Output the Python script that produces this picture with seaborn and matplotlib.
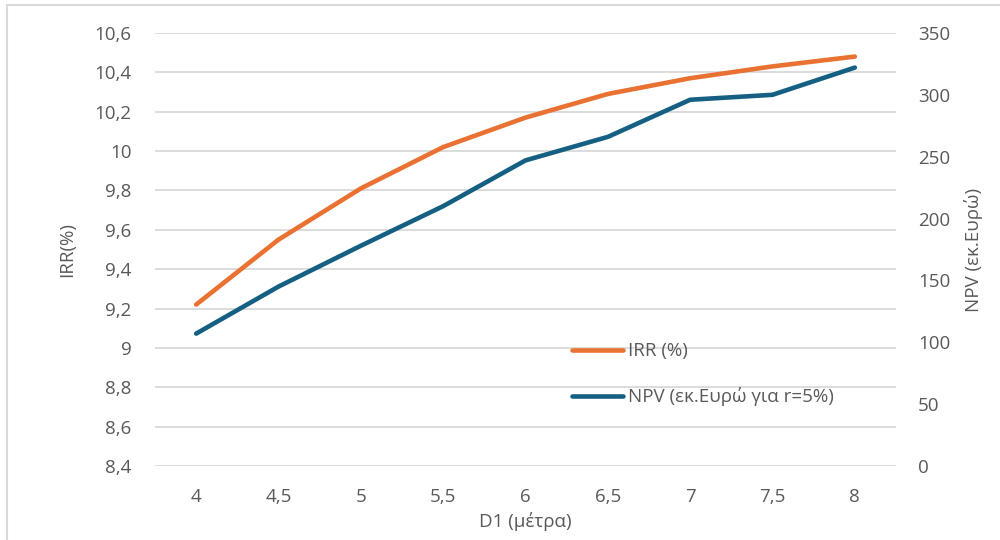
import matplotlib
matplotlib.use("Agg")
import matplotlib.pyplot as plt
import seaborn as sns
import pandas as pd
from matplotlib.lines import Line2D
from matplotlib.patches import Rectangle

# ---- data ----
d1 = [4, 4.5, 5, 5.5, 6, 6.5, 7, 7.5, 8]
d1_labels = ["4", "4,5", "5", "5,5", "6", "6,5", "7", "7,5", "8"]
irr = [9.22, 9.55, 9.81, 10.02, 10.17, 10.29, 10.37, 10.43, 10.48]
npv = [107, 145, 178, 210, 247, 266, 296, 300, 322]
left_ticks = [8.4, 8.6, 8.8, 9.0, 9.2, 9.4, 9.6, 9.8, 10.0, 10.2, 10.4, 10.6]
left_tick_labels = ["8,4", "8,6", "8,8", "9", "9,2", "9,4", "9,6", "9,8", "10", "10,2", "10,4", "10,6"]
right_ticks = [0, 50, 100, 150, 200, 250, 300, 350]
irr_label = "IRR (%)"
npv_label = "NPV (εκ.Ευρώ για r=5%)"

df = pd.DataFrame({"D1": d1, "IRR": irr, "NPV": npv})

sns.set_theme(style="white")
plt.rcParams["font.family"] = ["Open Sans", "DejaVu Sans"]

TXT = "#595959"
ORANGE = "#E97132"
BLUE = "#156082"
GRID = "#D9D9D9"
FS = 13.5

fig = plt.figure(figsize=(10, 5.4), dpi=100)
ax = fig.add_axes([0.155, 0.137, 0.741, 0.802])
ax2 = ax.twinx()

sns.lineplot(data=df, x="D1", y="IRR", ax=ax, color=ORANGE, linewidth=3.3,
             solid_capstyle="round", solid_joinstyle="round", zorder=3)
sns.lineplot(data=df, x="D1", y="NPV", ax=ax2, color=BLUE, linewidth=3.3,
             solid_capstyle="round", solid_joinstyle="round", zorder=3)

ax.set_xlim(3.75, 8.25)
ax.set_ylim(8.4, 10.6)
ax2.set_ylim(0, 350)
ax.set_xticks(d1)
ax.set_xticklabels(d1_labels)
ax.set_yticks(left_ticks)
ax.set_yticklabels(left_tick_labels)
ax2.set_yticks(right_ticks)
ax2.set_yticklabels([str(t) for t in right_ticks])

ax.grid(axis="y", color=GRID, linewidth=1.3)
ax.grid(axis="x", visible=False)
ax2.grid(False)
ax.set_axisbelow(True)
for a in (ax, ax2):
    for s in a.spines.values():
        s.set_visible(False)
    a.tick_params(length=0, labelsize=FS, labelcolor=TXT)
ax.tick_params(axis="y", pad=17)
ax.tick_params(axis="x", pad=16)
ax2.tick_params(axis="y", pad=16)

ax.set_xlabel("D1 (μέτρα)", fontsize=FS, color=TXT, labelpad=4)
ax.set_ylabel("IRR(%)", fontsize=FS, color=TXT, labelpad=13)
ax2.set_ylabel("NPV (εκ.Ευρώ)", fontsize=FS, color=TXT, labelpad=10)

handles = [Line2D([], [], color=ORANGE, linewidth=3.3, solid_capstyle="round"),
           Line2D([], [], color=BLUE, linewidth=3.3, solid_capstyle="round")]
leg = ax2.legend(handles, [irr_label, npv_label], loc="upper left",
                 bbox_to_anchor=(0.54, 0.325), frameon=False, fontsize=FS,
                 handlelength=2.7, handletextpad=0.3, labelspacing=1.45)
for t in leg.get_texts():
    t.set_color(TXT)

fig.patches.append(Rectangle((0.007, -0.05), 1.2, 1.04, transform=fig.transFigure,
                             fill=False, edgecolor="#D9D9D9", linewidth=1.5))

fig.savefig("out.png", dpi=100)
